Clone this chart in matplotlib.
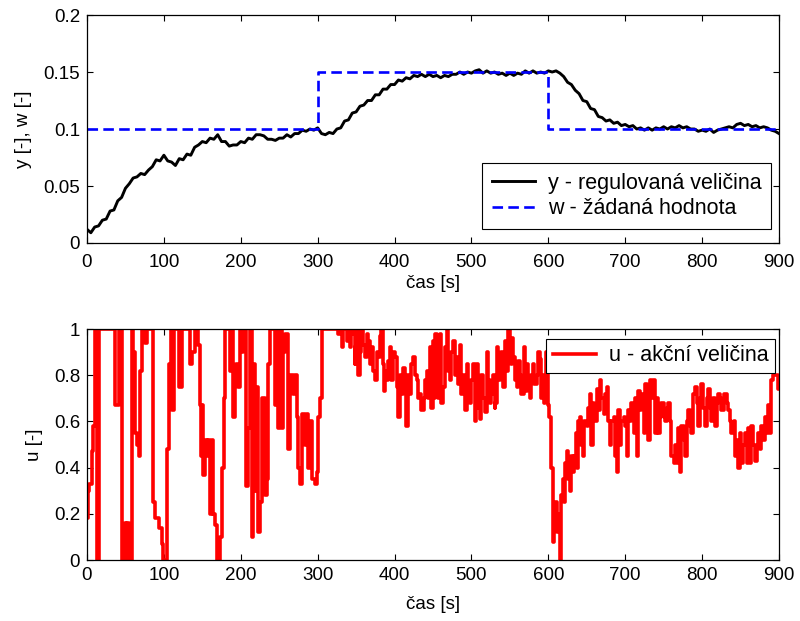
import matplotlib
matplotlib.use("Agg")
import matplotlib.pyplot as plt

plt.rcParams['font.family'] = ['Liberation Sans', 'DejaVu Sans']
plt.rcParams['font.size'] = 13.5

# --- top plot data ---
y_t = list(range(0, 901, 5))
y_v = [0.012, 0.009, 0.014, 0.015, 0.020, 0.021, 0.028, 0.029, 0.037, 0.040, 0.048, 0.052, 0.057, 0.058, 0.061, 0.060,
       0.064, 0.067, 0.073, 0.072, 0.077, 0.072, 0.071, 0.068, 0.074, 0.073, 0.078, 0.077, 0.084, 0.086, 0.089, 0.088,
       0.092, 0.091, 0.095, 0.089, 0.089, 0.085, 0.086, 0.086, 0.089, 0.088, 0.092, 0.091, 0.095, 0.095, 0.094, 0.091,
       0.091, 0.090, 0.092, 0.092, 0.095, 0.093, 0.096, 0.096, 0.099, 0.098, 0.100, 0.099, 0.101, 0.096, 0.095, 0.097,
       0.096, 0.100, 0.101, 0.107, 0.108, 0.114, 0.115, 0.120, 0.121, 0.125, 0.125, 0.130, 0.130, 0.135, 0.135, 0.139,
       0.139, 0.143, 0.142, 0.145, 0.144, 0.147, 0.146, 0.148, 0.146, 0.148, 0.146, 0.147, 0.145, 0.147, 0.146, 0.148,
       0.148, 0.150, 0.148, 0.150, 0.149, 0.151, 0.152, 0.149, 0.151, 0.149, 0.150, 0.148, 0.149, 0.147, 0.149, 0.147,
       0.149, 0.148, 0.151, 0.149, 0.151, 0.149, 0.150, 0.149, 0.151, 0.150, 0.151, 0.149, 0.146, 0.141, 0.139, 0.134,
       0.131, 0.125, 0.124, 0.118, 0.117, 0.111, 0.110, 0.107, 0.108, 0.105, 0.106, 0.103, 0.104, 0.102, 0.103, 0.100,
       0.101, 0.099, 0.101, 0.099, 0.101, 0.100, 0.102, 0.100, 0.102, 0.101, 0.103, 0.101, 0.102, 0.100, 0.100, 0.098,
       0.099, 0.098, 0.100, 0.097, 0.099, 0.100, 0.101, 0.102, 0.101, 0.104, 0.105, 0.103, 0.104, 0.102, 0.103, 0.101,
       0.102, 0.101, 0.099, 0.098, 0.096]

w_t = [0, 300, 300, 600, 600, 900]
w_v = [0.10, 0.10, 0.15, 0.15, 0.10, 0.10]

# --- bottom plot data: (time [s], u) step breakpoints, three time segments ---
u_seg1 = [(0, 0.18), (1, 0.30), (2, 0.33), (6, 0.47), (8, 0.58), (10, 1.0), (13, 0.0), (16, 1.0), (36, 0.67),
          (41, 1.0), (46, 0.0), (49, 0.16), (51, 0.0), (52, 0.16), (54, 0.0), (58, 1.0), (60, 0.9), (62, 0.55),
          (65, 0.5), (67, 0.45), (69, 0.82), (71, 1.0), (75, 0.94), (78, 1.0), (86, 0.25), (88, 0.18), (93, 0.14),
          (97, 0.07), (99, 0.0), (104, 0.48), (106, 0.85), (109, 1.0), (111, 0.65), (113, 1.0), (120, 0.75),
          (124, 1.0), (134, 0.85), (137, 0.9), (140, 1.0), (145, 0.93), (147, 0.67), (148, 0.45), (150, 0.67),
          (151, 0.37), (153, 0.52), (156, 0.45), (158, 0.52), (160, 0.2), (162, 0.52), (164, 0.2), (166, 0.15),
          (169, 0.0), (173, 0.1), (175, 0.4), (178, 0.7), (180, 1.0), (186, 0.82), (188, 1.0), (190, 0.62),
          (192, 0.8), (194, 0.85), (197, 0.75), (199, 1.0), (201, 0.9), (203, 1.0), (207, 0.32), (210, 0.57),
          (212, 1.0), (214, 0.1), (216, 0.3), (217, 0.85), (218, 0.3), (220, 0.75), (223, 0.12), (225, 0.25),
          (227, 0.4), (228, 0.7), (231, 0.28), (234, 0.35), (236, 0.85), (238, 1.0), (244, 0.67), (247, 1.0),
          (249, 0.57), (251, 1.0), (253, 0.57), (255, 0.9), (257, 0.98), (262, 0.48), (264, 0.8), (268, 0.72),
          (270, 0.8), (273, 0.62), (275, 0.4), (277, 0.33), (279, 0.63), (284, 0.5), (286, 0.63), (288, 0.4),
          (290, 0.6), (292, 0.35), (296, 0.33), (299, 0.38)]
u_seg2 = [(301, 0.62), (303, 0.7), (305, 1.0), (327, 0.98), (329, 1.0), (331, 0.92), (333, 1.0), (338, 0.95),
          (340, 1.0), (342, 0.92), (344, 0.98), (346, 1.0), (348, 0.85), (349, 0.92), (351, 1.0), (353, 0.8),
          (355, 0.9), (357, 1.0), (359, 0.93), (362, 0.88), (364, 0.98), (366, 0.95), (368, 0.85), (370, 0.92),
          (372, 0.82), (375, 0.78), (377, 0.9), (379, 0.88), (381, 0.97), (383, 1.0), (385, 0.85), (386, 0.73),
          (388, 0.82), (390, 0.78), (392, 0.86), (394, 0.92), (396, 0.78), (398, 0.9), (401, 0.88), (403, 0.75),
          (405, 0.62), (407, 0.8), (409, 0.72), (411, 0.83), (413, 0.8), (415, 0.58), (417, 0.78), (418, 0.8),
          (420, 0.72), (422, 0.85), (424, 0.88), (426, 0.8), (429, 0.78), (431, 0.7), (433, 0.72), (435, 0.65),
          (438, 0.7), (440, 0.78), (442, 0.82), (444, 0.7), (446, 0.92), (448, 0.66), (450, 0.95), (451, 0.7),
          (453, 0.98), (455, 0.72), (457, 0.7), (458, 0.9), (459, 0.98), (461, 0.68), (463, 0.75), (465, 0.92),
          (468, 1.0), (470, 0.82), (472, 0.78), (474, 0.9), (476, 0.95), (478, 0.8), (481, 0.88), (483, 0.76),
          (485, 0.93), (487, 0.72), (489, 0.8), (492, 0.65), (494, 0.85), (496, 0.7), (498, 0.68), (500, 0.78),
          (502, 0.85), (504, 0.6), (506, 0.82), (507, 0.85), (509, 0.66), (511, 0.61), (513, 0.8), (515, 0.7),
          (517, 0.64), (520, 0.9), (522, 0.78), (524, 0.68), (526, 0.72), (528, 0.8), (530, 0.66), (531, 0.68),
          (533, 0.92), (535, 0.78), (537, 0.8), (539, 0.9), (541, 0.75), (543, 0.88), (544, 0.95), (546, 0.82),
          (548, 1.0), (550, 0.9), (551, 0.85), (553, 0.96), (554, 0.88), (556, 0.78), (559, 0.75), (561, 0.86),
          (563, 0.8), (565, 0.72), (568, 0.92), (570, 0.73), (572, 0.85), (574, 0.78), (576, 0.7), (578, 0.8),
          (580, 0.85), (582, 0.76), (585, 0.8), (587, 0.9), (589, 0.87), (591, 0.7), (592, 0.8), (594, 0.68),
          (596, 0.75), (597, 0.9), (599, 0.7)]
u_seg3 = [(600, 0.67), (601, 0.62), (603, 0.4), (606, 0.08), (608, 0.18), (609, 0.25), (611, 0.12), (613, 0.2),
          (615, 0.0), (617, 0.28), (619, 0.35), (620, 0.25), (622, 0.42), (624, 0.47), (626, 0.35), (628, 0.3),
          (630, 0.45), (632, 0.38), (634, 0.45), (636, 0.55), (637, 0.4), (639, 0.6), (641, 0.62), (643, 0.5),
          (645, 0.45), (647, 0.6), (650, 0.58), (652, 0.66), (654, 0.72), (656, 0.5), (658, 0.68), (660, 0.6),
          (663, 0.74), (665, 0.65), (667, 0.78), (669, 0.7), (672, 0.63), (674, 0.72), (676, 0.75), (678, 0.6),
          (680, 0.5), (682, 0.6), (685, 0.62), (687, 0.45), (689, 0.38), (691, 0.65), (693, 0.5), (695, 0.6),
          (698, 0.62), (700, 0.58), (702, 0.45), (704, 0.65), (706, 0.6), (708, 0.68), (711, 0.55), (713, 0.7),
          (715, 0.45), (717, 0.73), (719, 0.65), (721, 0.72), (724, 0.55), (726, 0.76), (728, 0.65), (730, 0.52),
          (732, 0.78), (734, 0.7), (736, 0.78), (739, 0.55), (741, 0.7), (743, 0.55), (745, 0.62), (747, 0.68),
          (750, 0.62), (752, 0.6), (754, 0.66), (756, 0.68), (758, 0.6), (760, 0.45), (763, 0.42), (765, 0.5),
          (767, 0.42), (769, 0.57), (771, 0.38), (773, 0.58), (776, 0.52), (778, 0.45), (780, 0.6), (782, 0.65),
          (784, 0.58), (786, 0.55), (788, 0.72), (791, 0.75), (793, 0.68), (795, 0.58), (797, 0.7), (799, 0.76),
          (801, 0.66), (804, 0.58), (806, 0.7), (808, 0.74), (810, 0.66), (812, 0.6), (814, 0.7), (817, 0.58),
          (819, 0.68), (821, 0.72), (823, 0.7), (825, 0.65), (828, 0.72), (830, 0.72), (832, 0.68), (834, 0.65),
          (836, 0.6), (838, 0.55), (841, 0.6), (843, 0.45), (845, 0.52), (847, 0.4), (849, 0.55), (851, 0.42),
          (853, 0.5), (856, 0.55), (858, 0.42), (860, 0.57), (862, 0.42), (864, 0.58), (866, 0.5), (869, 0.43),
          (871, 0.5), (873, 0.55), (875, 0.48), (877, 0.58), (879, 0.52), (882, 0.62), (884, 0.55), (886, 0.67),
          (888, 0.55), (890, 0.78), (892, 0.8), (898, 0.8), (899, 0.74), (900, 0.74)]

x_ticks = [0, 100, 200, 300, 400, 500, 600, 700, 800, 900]
y1_ticks = [0, 0.05, 0.1, 0.15, 0.2]
y1_labels = ['0', '0.05', '0.1', '0.15', '0.2']
y2_ticks = [0, 0.2, 0.4, 0.6, 0.8, 1]
y2_labels = ['0', '0.2', '0.4', '0.6', '0.8', '1']

u_all = u_seg1 + u_seg2 + u_seg3
u_t = [p[0] for p in u_all]
u_v = [p[1] for p in u_all]

fig = plt.figure(figsize=(8.0, 6.21), dpi=100)
ax1 = fig.add_axes([0.10875, 0.6087, 0.865, 0.3671])
ax2 = fig.add_axes([0.10875, 0.0982, 0.865, 0.3720])

ax1.plot(y_t, y_v, color='black', lw=2.1, label='y - regulovaná veličina')
ax1.plot(w_t, w_v, color='#0000ff', lw=1.9, linestyle=(0, (4, 2)), label='w - žádaná hodnota')
ax1.set_xlim(0, 900)
ax1.set_ylim(0, 0.2)
ax1.set_yticks(y1_ticks)
ax1.set_yticklabels(y1_labels)
ax1.set_ylabel('y [-], w [-]', labelpad=8)
ax1.set_xlabel('čas [s]', labelpad=3)
leg1 = ax1.legend(loc='lower right', bbox_to_anchor=(0.9884, 0.0614), borderaxespad=0,
                  fancybox=False, edgecolor='black', framealpha=1, handlelength=2.0,
                  handletextpad=0.6, labelspacing=0.2, borderpad=0.45, fontsize=15.5)
leg1.get_frame().set_linewidth(0.8)

ax2.step(u_t, u_v, where='post', color='#ff0000', lw=2.6, label='u - akční veličina')
ax2.set_xlim(0, 900)
ax2.set_ylim(0, 1)
ax2.set_yticks(y2_ticks)
ax2.set_yticklabels(y2_labels)
ax2.set_ylabel('u [-]', labelpad=8)
ax2.set_xlabel('čas [s]', labelpad=9)
leg2 = ax2.legend(loc='upper right', bbox_to_anchor=(0.9942, 0.9567), borderaxespad=0,
                  fancybox=False, edgecolor='black', framealpha=1, handlelength=2.0,
                  handletextpad=0.6, borderpad=0.3, fontsize=15.5)
leg2.get_frame().set_linewidth(0.8)

for ax, xpad in ((ax1, 8), (ax2, 5)):
    ax.set_xticks(x_ticks)
    ax.tick_params(direction='in', top=True, right=True, length=4, width=0.8, labelsize=13.5, pad=5)
    ax.tick_params(axis='x', pad=xpad)
    for s in ax.spines.values():
        s.set_linewidth(0.9)

fig.savefig('out.png', dpi=100)
